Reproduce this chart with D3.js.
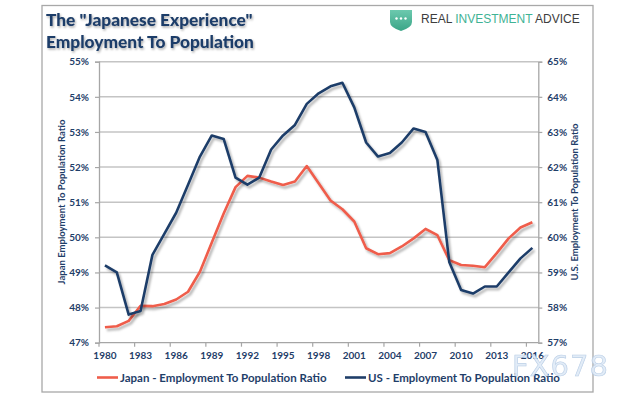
<!DOCTYPE html>
<html>
<head>
<meta charset="utf-8">
<script src="https://cdn.jsdelivr.net/npm/d3@7"></script>
<style>
html,body{margin:0;padding:0;background:#fff;}
svg{display:block;}
</style>
</head>
<body>
<svg id="chart" width="640" height="400"></svg>
<script>
// ---- Data ----
const years = d3.range(1980, 2017);
const tickYears = [1980,1983,1986,1989,1992,1995,1998,2001,2004,2007,2010,2013,2016];
const japanValues = [47.44,47.47,47.62,48.05,48.04,48.10,48.23,48.45,49.02,49.85,50.68,51.43,51.75,51.70,51.59,51.49,51.59,52.03,51.54,51.05,50.80,50.45,49.69,49.52,49.55,49.74,49.97,50.24,50.06,49.35,49.21,49.19,49.15,49.55,49.97,50.28,50.43];
const usValues = [59.2,59.0,57.8,57.9,59.5,60.1,60.7,61.5,62.3,62.9,62.8,61.7,61.5,61.7,62.5,62.9,63.2,63.8,64.1,64.3,64.4,63.7,62.7,62.3,62.4,62.7,63.1,63.0,62.2,59.3,58.5,58.4,58.6,58.6,59.0,59.4,59.7];
const leftTicks = [47,48,49,50,51,52,53,54,55];
const rightTicks = [57,58,59,60,61,62,63,64,65];
const titleLines = ['The "Japanese Experience"', 'Employment To Population'];
const seriesNames = ["Japan - Employment To Population Ratio", "US - Employment To Population Ratio"];

// ---- Style ----
const NAVY = "#1f3e69";
const RED = "#ef5d4b";
const GRID = "#c4c4c4";
const AXIS = "#a6a6a6";
const FONT = "Lato, 'Open Sans', sans-serif";

const svg = d3.select("#chart");
const defs = svg.append("defs");
const sh = defs.append("filter").attr("id","shadow").attr("x","-10%").attr("y","-10%").attr("width","130%").attr("height","130%");
sh.append("feDropShadow").attr("dx",2).attr("dy",2.5).attr("stdDeviation",1.3).attr("flood-color","#000").attr("flood-opacity",0.3);
const tsh = defs.append("filter").attr("id","tshadow").attr("x","-5%").attr("y","-20%").attr("width","115%").attr("height","150%");
tsh.append("feDropShadow").attr("dx",1).attr("dy",1.5).attr("stdDeviation",1).attr("flood-color","#000").attr("flood-opacity",0.35);
const grad = defs.append("linearGradient").attr("id","shield").attr("x1",0).attr("y1",0).attr("x2",0).attr("y2",1);
grad.append("stop").attr("offset","0%").attr("stop-color","#6cc9ae");
grad.append("stop").attr("offset","100%").attr("stop-color","#3aa587");

// Frame
svg.append("rect").attr("x",42).attr("y",5.5).attr("width",551).attr("height",386.5)
  .attr("fill","#fff").attr("stroke","#a8a8a8").attr("stroke-width",1.3);

// Title
titleLines.forEach((t,i)=>{
  svg.append("text").attr("x",46).attr("y",25.5 + i*22.5)
    .attr("font-family",FONT).attr("font-weight",900).attr("font-size",17.3)
    .attr("fill",NAVY).attr("filter","url(#tshadow)").text(t);
});

// Logo
svg.append("path").attr("d","M390,10 L412,10 L412,22 Q412,27.5 401,31 Q390,27.5 390,22 Z").attr("fill","url(#shield)");
[396.5,401,405.5].forEach(c=>svg.append("circle").attr("cx",c).attr("cy",18.5).attr("r",1.2).attr("fill","#fff"));
const logo = svg.append("text").attr("x",421).attr("y",22.8).attr("font-family","'Liberation Sans', Arial, sans-serif")
  .attr("font-size",12).attr("fill","#3d3d3d");
logo.append("tspan").text("REAL ");
logo.append("tspan").attr("fill","#3fb395").text("INVESTMENT");
logo.append("tspan").text(" ADVICE");

// ---- Scales ----
const pL = 99, pR = 538.3, pT = 61.7, pB = 342.7;
const x = d3.scaleBand().domain(years).range([pL, pR]).padding(0);
const cx = d => x(d) + x.bandwidth()/2;
const yL = d3.scaleLinear().domain([47,55]).range([pB, pT]);
const yR = d3.scaleLinear().domain([57,65]).range([pB, pT]);

// Gridlines
svg.append("g").selectAll("line").data(leftTicks.slice(1)).join("line")
  .attr("x1",pL).attr("x2",pR).attr("y1",d=>yL(d)).attr("y2",d=>yL(d))
  .attr("stroke",GRID).attr("stroke-width",1.5);

// Left axis
const gL = svg.append("g").attr("transform",`translate(${pL},0)`)
  .call(d3.axisLeft(yL).tickValues(leftTicks).tickFormat(d=>d+"%").tickSize(4).tickPadding(6));
// Right axis
const gR = svg.append("g").attr("transform",`translate(${pR},0)`)
  .call(d3.axisRight(yR).tickValues(rightTicks).tickFormat(d=>d+"%").tickSize(4).tickPadding(5));
// Bottom axis (labels at category centres, ticks at category edges)
const gB = svg.append("g").attr("transform",`translate(0,${pB})`)
  .call(d3.axisBottom(x).tickValues(tickYears).tickSize(0).tickPadding(9));
gB.selectAll(".tick").append("line").attr("x1",-x.bandwidth()/2).attr("x2",-x.bandwidth()/2)
  .attr("y1",0).attr("y2",4);

[gL,gR,gB].forEach(g=>{
  g.select(".domain").attr("stroke",AXIS).attr("stroke-width",1.3);
  g.selectAll(".tick line").attr("stroke",AXIS).attr("stroke-width",1.2);
  g.selectAll(".tick text").attr("fill",NAVY).attr("font-family",FONT).attr("font-weight",700).attr("font-size",10);
});
gB.select(".domain").attr("d",`M${pL},0H${pR}`);

// Axis titles
svg.append("text").attr("transform",`translate(65,202) rotate(-90)`).attr("text-anchor","middle")
  .attr("font-family",FONT).attr("font-weight",700).attr("font-size",9.5).attr("fill",NAVY)
  .text("Japan Employment To Population Ratio");
svg.append("text").attr("transform",`translate(578,202) rotate(-90)`).attr("text-anchor","middle")
  .attr("font-family",FONT).attr("font-weight",700).attr("font-size",9.5).attr("fill",NAVY)
  .text("U.S. Employment To Population Ratio");

// Lines
const lineJ = d3.line().x((d,i)=>cx(years[i])).y(d=>yL(d));
const lineU = d3.line().x((d,i)=>cx(years[i])).y(d=>yR(d));
svg.append("path").datum(japanValues).attr("d",lineJ).attr("fill","none")
  .attr("stroke",RED).attr("stroke-width",2.6).attr("stroke-linejoin","round").attr("filter","url(#shadow)");
svg.append("path").datum(usValues).attr("d",lineU).attr("fill","none")
  .attr("stroke",NAVY).attr("stroke-width",2.6).attr("stroke-linejoin","round").attr("filter","url(#shadow)");

// Legend
const legend = [{name:seriesNames[0], color:RED, x:97},{name:seriesNames[1], color:NAVY, x:345}];
legend.forEach(l=>{
  svg.append("line").attr("x1",l.x).attr("x2",l.x+21).attr("y1",377.5).attr("y2",377.5)
    .attr("stroke",l.color).attr("stroke-width",2.6);
  svg.append("text").attr("x",l.x+23).attr("y",381.5).attr("font-family",FONT).attr("font-weight",700)
    .attr("font-size",11.5).attr("fill",NAVY).text(l.name);
});

// Watermark
svg.append("text").attr("x",512).attr("y",376).attr("font-family","'DejaVu Sans', sans-serif")
  .attr("font-size",29).attr("letter-spacing",1).attr("fill","#dfeaf7").attr("stroke","#b3c9e3").attr("stroke-width",0.6)
  .attr("opacity",0.9).text("FX678");
</script>
</body>
</html>
